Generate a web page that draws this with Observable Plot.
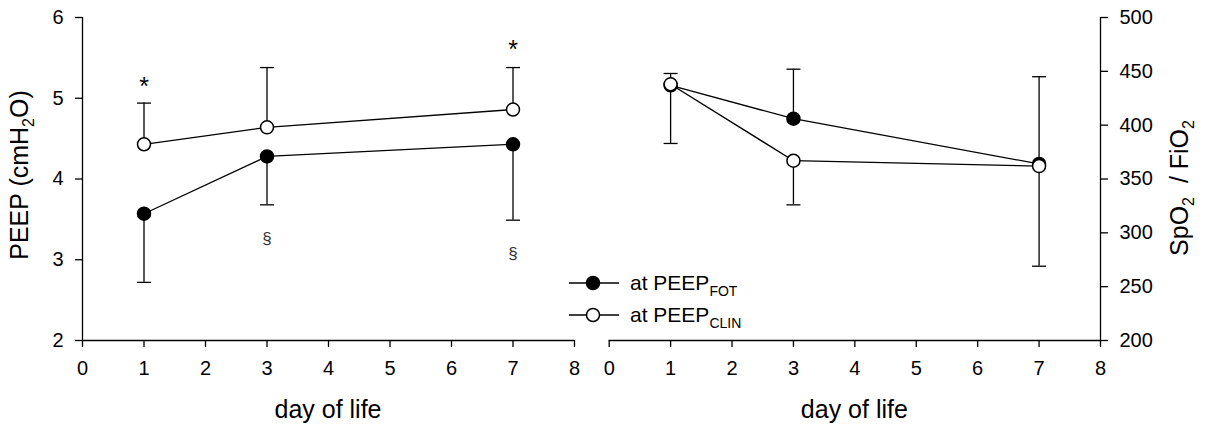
<!DOCTYPE html>
<html><head><meta charset="utf-8">
<script src="https://cdn.jsdelivr.net/npm/d3@7"></script>
<script src="https://cdn.jsdelivr.net/npm/@observablehq/plot@0.6"></script>
<style>
body{margin:0;background:#fff;font-family:"Liberation Sans",Arial,sans-serif;}
#wrap{position:relative;width:1211px;height:430px;overflow:hidden;}
#left,#right,#legend{position:absolute;top:0;}
#left{left:0}
#right{left:590px}
#legend{left:0}
</style></head><body>
<div id="wrap"><div id="left"></div><div id="right"></div><div id="legend"></div></div>
<script>
// ---- data ----
const days = [1, 3, 7];
const peepFot = [3.57, 4.28, 4.43];
const peepFotLow = [2.72, 3.68, 3.49];
const peepClin = [4.43, 4.64, 4.86];
const peepClinHigh = [4.94, 5.38, 5.38];
const sfFot = [437, 406, 364];
const sfFotHigh = [448, 452, 445];
const sfClin = [438, 367, 362];
const sfClinLow = [383, 326, 269];
const starDays = [1, 7];
const starY = [5.23, 5.68];
const sectDays = [3, 7];
const sectY = [3.26, 3.08];
const xTicks = [0, 1, 2, 3, 4, 5, 6, 7, 8];
const peepTicks = [2, 3, 4, 5, 6];
const sfTicks = [200, 250, 300, 350, 400, 450, 500];
const seriesNames = ["FOT", "CLIN"];

const FONT = '"Liberation Sans", Arial, sans-serif';
const rows = (ys, es) => days.map((d, i) => ({day: d, v: ys[i], e: es[i]}));
const leftFot = rows(peepFot, peepFotLow);
const leftClin = rows(peepClin, peepClinHigh);
const rightFot = rows(sfFot, sfFotHigh);
const rightClin = rows(sfClin, sfClinLow);
const stars = starDays.map((d, i) => ({day: d, y: starY[i]}));
const sects = sectDays.map((d, i) => ({day: d, y: sectY[i]}));

const capSymbol = {draw(ctx, size) { const w = Math.sqrt(size / Math.PI); ctx.moveTo(-w, 0); ctx.lineTo(w, 0); }};
const SW = 1.3;

function seriesMarks(fot, clin) {
  return [
    Plot.line(fot, {x: "day", y: "v", stroke: "#000", strokeWidth: SW}),
    Plot.line(clin, {x: "day", y: "v", stroke: "#000", strokeWidth: SW}),
    Plot.ruleX(fot, {x: "day", y1: "v", y2: "e", stroke: "#000", strokeWidth: SW}),
    Plot.ruleX(clin, {x: "day", y1: "v", y2: "e", stroke: "#000", strokeWidth: SW}),
    Plot.dot(fot, {x: "day", y: "e", symbol: capSymbol, r: 7, stroke: "#000", fill: "none", strokeWidth: SW}),
    Plot.dot(clin, {x: "day", y: "e", symbol: capSymbol, r: 7, stroke: "#000", fill: "none", strokeWidth: SW}),
    Plot.dot(fot, {x: "day", y: "v", r: 6.5, fill: "#000", stroke: "#000", strokeWidth: 1.5}),
    Plot.dot(clin, {x: "day", y: "v", r: 6.5, fill: "#fff", stroke: "#000", strokeWidth: 1.5})
  ];
}

const common = {
  height: 430, marginTop: 17, marginBottom: 90,
  style: {fontFamily: FONT, fontSize: "20px", color: "#000", background: "transparent", overflow: "visible"}
};

const left = Plot.plot({
  ...common, width: 590, marginLeft: 82, marginRight: 16,
  x: {domain: [0, 8]}, y: {domain: [2, 6]},
  marks: [
    Plot.ruleY([2], {stroke: "#000", strokeWidth: SW}),
    Plot.ruleX([0], {stroke: "#000", strokeWidth: SW}),
    Plot.axisX({ticks: xTicks, tickSize: 7, tickPadding: 13, label: null, tickFormat: d => d, strokeWidth: SW}),
    Plot.axisY({ticks: peepTicks, tickSize: 7, tickPadding: 12, label: null, tickFormat: d => d, strokeWidth: SW}),
    ...seriesMarks(leftFot, leftClin),
    Plot.text(stars, {x: "day", y: "y", text: () => "*", fontSize: 25, dy: 7}),
    Plot.text(sects, {x: "day", y: "y", text: () => "§", fontSize: 17, fill: "#333"})
  ]
});

const right = Plot.plot({
  ...common, width: 621, marginLeft: 18.7, marginRight: 111,
  x: {domain: [0, 8]}, y: {domain: [200, 500]},
  marks: [
    Plot.ruleY([200], {stroke: "#000", strokeWidth: SW}),
    Plot.ruleX([8], {stroke: "#000", strokeWidth: SW}),
    Plot.axisX({ticks: xTicks, tickSize: 7, tickPadding: 13, label: null, tickFormat: d => d, strokeWidth: SW}),
    Plot.axisY({anchor: "right", ticks: sfTicks, tickSize: 7, tickPadding: 12, label: null, tickFormat: d => d, strokeWidth: SW}),
    ...seriesMarks(rightFot, rightClin)
  ]
});

document.getElementById("left").append(left);
document.getElementById("right").append(right);

function addTitle(svg, xc, yc, rotate, parts) {
  const t = d3.select(svg).append("text")
    .attr("transform", `translate(${xc},${yc})` + (rotate ? " rotate(-90)" : ""))
    .attr("text-anchor", "middle").attr("font-family", FONT).attr("font-size", 25).attr("fill", "#000");
  let sub = false;
  parts.forEach(p => {
    const ts = t.append("tspan").text(p.t);
    if (p.sub && !sub) { ts.attr("font-size", 16).attr("dy", 6); sub = true; }
    else if (!p.sub && sub) { ts.attr("dy", -6); sub = false; }
  });
}
const lx = left.scale("x"), rx = right.scale("x");
addTitle(left, lx.apply(4), 418, false, [{t: "day of life"}]);
addTitle(right, rx.apply(4), 418, false, [{t: "day of life"}]);
addTitle(left, 28, 175, true, [{t: "PEEP (cmH"}, {t: "2", sub: true}, {t: "O)"}]);
addTitle(right, 598, 188, true, [{t: "SpO"}, {t: "2", sub: true}, {t: "  / FiO"}, {t: "2", sub: true}]);

// ---- legend (overlay) ----
const lg = d3.select("#legend").append("svg").attr("width", 1211).attr("height", 430)
  .style("pointer-events", "none");
const legendFill = ["#000", "#fff"];
seriesNames.forEach((name, i) => {
  const cy = 283 + i * 32;
  lg.append("line").attr("x1", 569).attr("x2", 619).attr("y1", cy).attr("y2", cy).attr("stroke", "#000").attr("stroke-width", SW);
  lg.append("circle").attr("cx", 593).attr("cy", cy).attr("r", 6.5).attr("fill", legendFill[i]).attr("stroke", "#000").attr("stroke-width", 1.5);
  const tx = lg.append("text").attr("x", 630).attr("y", cy + 7).attr("font-family", FONT).attr("font-size", 21).attr("fill", "#000");
  tx.append("tspan").text("at PEEP");
  tx.append("tspan").text(name).attr("font-size", 14).attr("dy", 6);
});
</script>
</body></html>
